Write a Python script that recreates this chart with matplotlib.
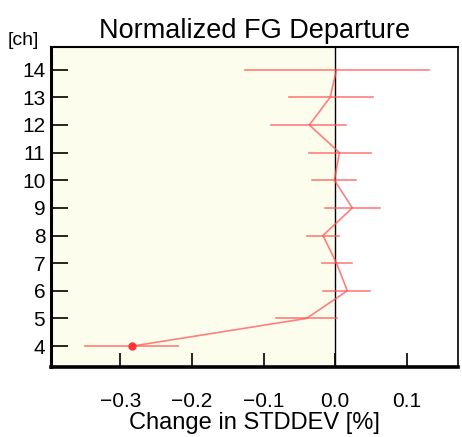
import matplotlib
matplotlib.use("Agg")
import matplotlib.pyplot as plt

# ===== DATA =====
channels = [4, 5, 6, 7, 8, 9, 10, 11, 12, 13, 14]
change = [-0.283, -0.040, 0.017, 0.002, -0.017, 0.024, -0.001, 0.006, -0.036, -0.007, 0.002]
err_low = [-0.349, -0.083, -0.017, -0.018, -0.039, -0.014, -0.032, -0.036, -0.090, -0.064, -0.126]
err_high = [-0.219, 0.002, 0.049, 0.024, 0.006, 0.063, 0.029, 0.050, 0.015, 0.053, 0.131]
significant = [True, False, False, False, False, False, False, False, False, False, False]
x_ticks = [-0.3, -0.2, -0.1, 0.0, 0.1]

plt.rcParams["font.family"] = ["Liberation Sans", "DejaVu Sans"]

fig = plt.figure(figsize=(4.62, 4.37), dpi=100)
ax = fig.add_axes([0.110, 0.160, 0.882, 0.733])

xmin, xmax = -0.397, 0.172
ax.set_xlim(xmin, xmax)
ax.set_ylim(3.24, 14.83)

# shaded "improvement" side
ax.axvspan(xmin, 0, color="#fdfdee", zorder=0)
ax.axvline(0, color="black", lw=1.0, zorder=1)

red = "#ff5555"
for ch, lo, hi in zip(channels, err_low, err_high):
    ax.plot([lo, hi], [ch, ch], color=red, alpha=0.75, lw=1.2, zorder=2)
ax.plot(change, channels, color=red, alpha=0.75, lw=1.2, zorder=3)
sig_x = [c for c, s in zip(change, significant) if s]
sig_y = [ch for ch, s in zip(channels, significant) if s]
ax.plot(sig_x, sig_y, "o", color="#ff3333", ms=5, zorder=4)

ax.set_xticks(x_ticks)
ax.set_xticklabels(["\u22120.3", "\u22120.2", "\u22120.1", "0.0", "0.1"])
ax.set_yticks(channels)
ax.tick_params(axis="both", direction="in", labelsize=15, width=1.2)
ax.tick_params(axis="x", length=10, pad=18)
ax.tick_params(axis="y", length=12, pad=4)

ax.spines["left"].set_linewidth(2.2)
ax.spines["bottom"].set_linewidth(2.6)
ax.spines["top"].set_linewidth(1.5)
ax.spines["right"].set_linewidth(1.2)

ax.set_title("Normalized FG Departure", fontsize=19.5, pad=6)
ax.set_xlabel("Change in STDDEV [%]", fontsize=17, labelpad=1)
fig.text(0.016, 0.888, "[ch]", fontsize=14, ha="left", va="bottom")

fig.savefig("out.png", dpi=100)
